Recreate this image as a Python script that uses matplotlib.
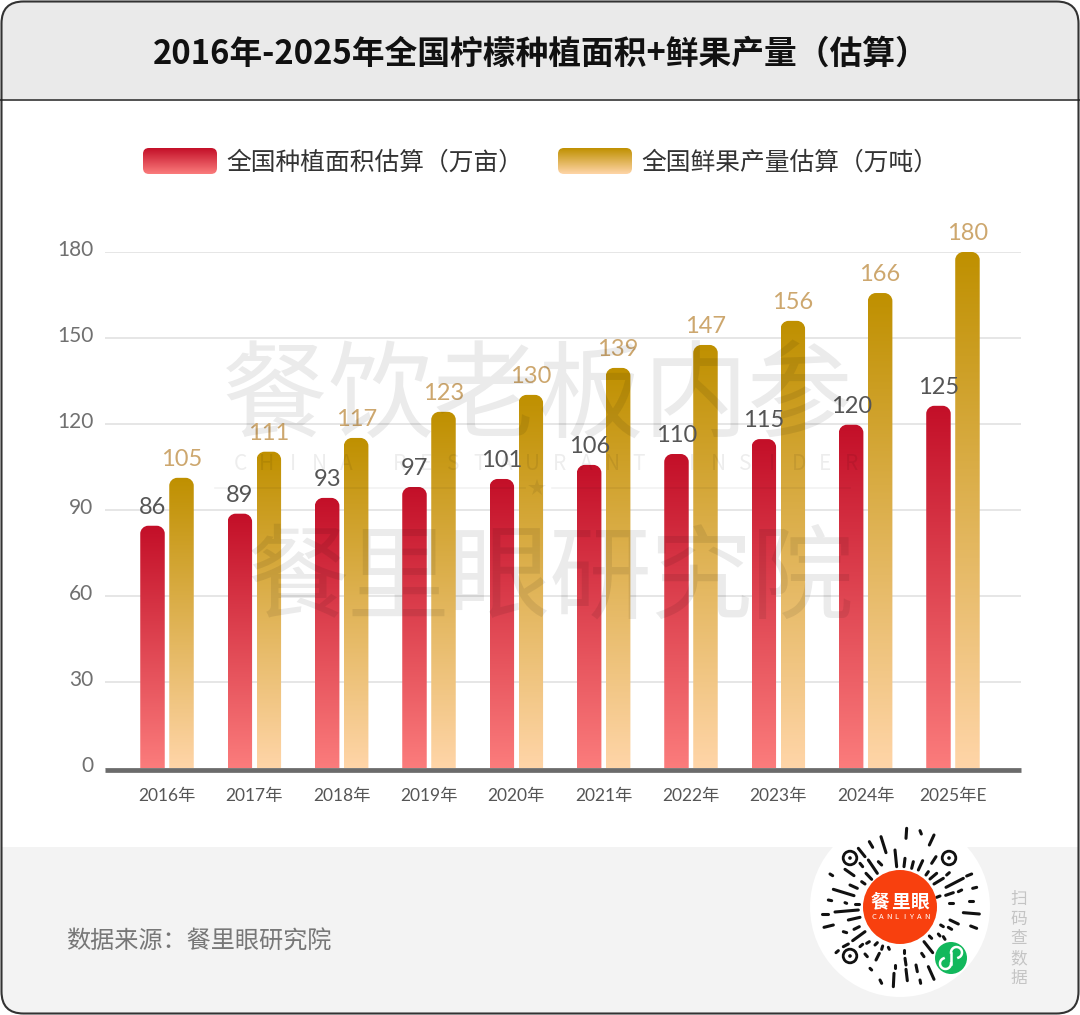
"""
Lemon planting area and fresh fruit output, 2016-2025, as a gradient bar chart.
"""
import numpy as np
import matplotlib
matplotlib.use("Agg")
import matplotlib.pyplot as plt
from matplotlib.colors import LinearSegmentedColormap
from matplotlib.patches import Circle, FancyBboxPatch, PathPatch, Rectangle
from matplotlib.path import Path
from matplotlib.transforms import ScaledTranslation

plt.rcParams['font.family'] = ['Noto Sans CJK SC', 'DejaVu Sans']

W, H = 1080, 1015

years = ['2016年', '2017年', '2018年', '2019年', '2020年', '2021年', '2022年', '2023年', '2024年', '2025年E']
# The bars in the picture do not sit exactly at their printed numbers, so heights and labels are kept apart
area_heights = [84.6, 88.8, 94.3, 98.1, 100.9, 105.8, 109.6, 114.8, 119.8, 126.4]
area_labels = [86, 89, 93, 97, 101, 106, 110, 115, 120, 125]
fruit_heights = [101.3, 110.4, 115.2, 124.3, 130.2, 139.6, 147.6, 156.0, 165.7, 180.0]
fruit_labels = [105, 111, 117, 123, 130, 139, 147, 156, 166, 180]
y_ticks = [0, 30, 60, 90, 120, 150, 180]

title = '2016年-2025年全国柠檬种植面积+鲜果产量（估算）'
area_name = '全国种植面积估算（万亩）'
fruit_name = '全国鲜果产量估算（万吨）'
source = '数据来源：餐里眼研究院'

red_map = LinearSegmentedColormap.from_list('red', ['#C30F28', '#FB7C7C'])
gold_map = LinearSegmentedColormap.from_list('gold', ['#BF9000', '#FFD5A8'])
ramp = np.linspace(0, 1, 256).reshape(-1, 1)
num_font = ['Lato', 'Noto Sans CJK SC']

# QR strokes: x1, y1, x2, y2 in pixels of a 3x crop at (780, 810)
qr_strokes = [
	(380,55,378,85),(420,62,424,72),(462,75,448,105),(303,80,318,128),(268,95,278,112),(235,115,255,140),
	(345,120,350,170),(342,85,342,85),(375,122,375,122),(408,107,408,107),(405,125,405,125),(442,120,442,120),
	(468,140,455,160),(375,145,372,170),(400,155,395,175),(428,152,415,180),(265,150,292,190),(295,155,305,165),
	(240,160,248,170),(195,178,222,197),(258,190,275,208),(445,185,438,195),(470,190,450,207),(508,188,500,195),
	(575,192,560,198),(550,205,498,232),(490,205,462,222),(150,192,158,197),(180,208,180,208),(210,225,232,235),
	(245,215,255,222),(160,238,222,257),(590,232,578,235),(562,238,562,238),(545,240,535,245),(520,248,497,256),
	(480,258,470,262),(145,270,155,272),(170,277,170,277),(195,278,200,280),(225,282,238,282),(508,278,520,278),
	(535,278,535,278),(568,272,580,272),(480,280,480,280),(165,306,235,300),(125,312,145,312),(550,308,598,312),
	(485,305,485,305),(205,330,240,322),(510,330,535,342),(132,352,160,345),(185,340,185,340),(480,322,480,322),
	(552,342,552,342),(572,348,590,355),(238,350,222,358),(200,368,190,365),(482,345,490,350),(505,352,515,358),
	(470,360,470,360),(218,392,255,365),(162,385,162,385),(525,368,525,368),(475,372,480,378),(558,384,558,384),
	(490,380,495,388),(190,410,205,402),(240,410,248,403),(268,395,260,400),(455,385,448,378),(168,428,175,422),
	(285,405,292,398),(305,418,308,408),(328,418,325,412),(352,405,352,405),(372,420,372,430),(395,420,395,420),
	(412,405,412,405),(432,395,458,428),(425,430,432,440),(262,440,255,432),(298,430,288,450),(322,430,322,430),
	(375,445,378,465),(345,465,345,475),(315,460,315,460),(275,480,270,475),(342,490,340,530),(378,478,382,512),
	(408,465,412,485),(445,470,462,508),(420,510,422,520),(300,510,305,520),
]


def top_rounded(x0, x1, y0, y1, rx, ry):
	# Bar outline with only the two top corners rounded
	k = 0.55
	verts = [(x0, y0), (x0, y1 - ry), (x0, y1 - ry + k * ry), (x0 + rx - k * rx, y1), (x0 + rx, y1),
		(x1 - rx, y1), (x1 - rx + k * rx, y1), (x1, y1 - ry + k * ry), (x1, y1 - ry), (x1, y0), (x0, y0)]
	codes = [Path.MOVETO, Path.LINETO, Path.CURVE4, Path.CURVE4, Path.CURVE4,
		Path.LINETO, Path.CURVE4, Path.CURVE4, Path.CURVE4, Path.LINETO, Path.CLOSEPOLY]
	return Path(verts, codes)


fig = plt.figure(figsize=(W / 100, H / 100), dpi=100)

# Page furniture is laid out in pixels on a full-figure axes
bg = fig.add_axes([0, 0, 1, 1], zorder=0)
bg.set_xlim(0, W)
bg.set_ylim(H, 0)
bg.axis('off')
frame = FancyBboxPatch((1.5, 1.5), W - 3, H - 3, boxstyle='round,pad=0,rounding_size=22', fc='white', ec='none')
bg.add_patch(frame)
head = Rectangle((0, 0), W, 99, fc='#EAEAEA', ec='none', clip_path=frame)
bg.add_patch(head)
foot = Rectangle((0, 847), W, H - 847, fc='#F3F3F3', ec='none', clip_path=frame)
bg.add_patch(foot)
bg.plot([0, W], [99.5, 99.5], color='#222222', lw=1.1)
bg.add_patch(FancyBboxPatch((1.5, 1.5), W - 3, H - 3, boxstyle='round,pad=0,rounding_size=22', fc='none', ec='#333333', lw=1.5))
bg.text(541, 54, title, ha='center', va='center', fontsize=23.6, fontweight='bold', color='#111111')

# Legend
for x0, cmap, name in [(143, red_map, area_name), (558, gold_map, fruit_name)]:
	im = bg.imshow(ramp, cmap=cmap, extent=(x0, x0 + 74, 174, 148), aspect='auto', zorder=2)
	swatch = FancyBboxPatch((x0, 148), 74, 26, boxstyle='round,pad=0,rounding_size=6', fc='none', ec='none', transform=bg.transData)
	bg.add_patch(swatch)
	im.set_clip_path(swatch)
	bg.text(x0 + 83, 163, name, ha='left', va='center', fontsize=17.8, color='#333333')
bg.set_xlim(0, W)
bg.set_ylim(H, 0)

# Footer
bg.text(66, 942, source, ha='left', va='center', fontsize=17.4, color='#777777')
bg.add_patch(Circle((900, 907), 90, fc='white', ec='none', zorder=3))
for x1, y1, x2, y2 in qr_strokes:
	bg.plot([780 + x1 / 3, 780 + x2 / 3], [810 + y1 / 3, 810 + y2 / 3], color='#111111', lw=2.2, solid_capstyle='round', zorder=4)
for cx, cy in [(850, 858), (949, 858), (850, 956)]:
	bg.add_patch(Circle((cx, cy), 6.8, fc='white', ec='#111111', lw=2.0, zorder=4))
	bg.add_patch(Circle((cx, cy), 1.8, fc='#111111', ec='none', zorder=4))
bg.add_patch(Circle((900, 907), 37, fc='#F8400E', ec='none', zorder=5))
for i, ch in enumerate('餐里眼'):
	bg.text(880 + i * 20, 902, ch, ha='center', va='center', fontsize=13.5, fontweight='bold', color='white', zorder=6)
for i, ch in enumerate('CANLIYAN'):
	bg.text(873.5 + i * 7.6, 917, ch, ha='center', va='center', fontsize=5.5, color='white', zorder=6)

# Mini program badge: two open rings joined by a short stem
bg.add_patch(Circle((951, 958), 16, fc='#12B85C', ec='none', zorder=5))
low = np.deg2rad(np.linspace(0, 250, 40))
high = np.deg2rad(np.linspace(180, 430, 40))
bg.plot(945.5 + 5.5 * np.cos(low), 963.5 + 5.5 * np.sin(low), color='white', lw=1.8, zorder=6)
bg.plot(956.5 + 5.5 * np.cos(high), 952.5 + 5.5 * np.sin(high), color='white', lw=1.8, zorder=6)
bg.plot([951, 951], [963.5, 952.5], color='white', lw=1.8, zorder=6)
for i, ch in enumerate('扫码查数据'):
	bg.text(1019, 899 + i * 20, ch, ha='center', va='center', fontsize=12, color='#C4C4C4')

# Chart axes: pixel box chosen so that group i centres at 167 + 87.33 i, 0 at y=768.5 and 180 at y=252
xlim = ((105 - 167) / 87.33, (1021 - 167) / 87.33)
ax = fig.add_axes([105 / W, 1 - 768.5 / H, 916 / W, 516.5 / H], zorder=1)
ax.patch.set_alpha(0)
ax.set_axisbelow(True)
for side in ax.spines:
	ax.spines[side].set_visible(False)

x = np.arange(len(years))
offset = 14.5 / 87.33
width = 24.5 / 87.33
area_bars = ax.bar(x - offset, area_heights, width, color='none')
fruit_bars = ax.bar(x + offset, fruit_heights, width, color='none')

rx = 8 / 87.33
ry = 8 * 180 / 516.5
for bars, cmap in [(area_bars, red_map), (fruit_bars, gold_map)]:
	for rect in bars:
		x0, x1 = rect.get_x(), rect.get_x() + rect.get_width()
		top = rect.get_height()
		im = ax.imshow(ramp, cmap=cmap, extent=(x0, x1, 0, top), aspect='auto', zorder=2)
		outline = PathPatch(top_rounded(x0, x1, 0, top, rx, ry), fc='none', ec='none', transform=ax.transData)
		ax.add_patch(outline)
		im.set_clip_path(outline)

for xi, top, label in zip(x - offset, area_heights, area_labels):
	ax.annotate(str(label), (xi, top), xytext=(0, 5.5), textcoords='offset points', ha='center', va='bottom',
		fontsize=17, family=num_font, color='#555555', zorder=4)
for xi, top, label in zip(x + offset, fruit_heights, fruit_labels):
	ax.annotate(str(label), (xi, top), xytext=(0, 5.5), textcoords='offset points', ha='center', va='bottom',
		fontsize=17, family=num_font, color='#CDA76E', zorder=4)

ax.set_xlim(*xlim)
ax.set_ylim(0, 180)
ax.set_yticks(y_ticks)
ax.yaxis.grid(True, color='#E2E2E2', lw=1.2)
ax.set_yticklabels([str(v) for v in y_ticks], fontsize=15, color='#707070', family=num_font)
ax.tick_params(axis='y', length=0, pad=8.5)
# Value labels of the y axis sit a little above their gridlines
for lab in ax.get_yticklabels():
	lab.set_transform(lab.get_transform() + ScaledTranslation(0, 4 / 100, fig.dpi_scale_trans))
ax.set_xticks(x)
ax.set_xticklabels(years, fontsize=12.5, color='#555555', family=num_font)
ax.tick_params(axis='x', length=0, pad=14)
ax.axhline(-0.5, color='#6B6B6B', lw=3.4, zorder=3, clip_on=False, solid_capstyle='butt')

# Watermark sits over the bars
wm = fig.add_axes([0, 0, 1, 1], zorder=2)
wm.set_xlim(0, W)
wm.set_ylim(H, 0)
wm.axis('off')
for i, ch in enumerate('餐饮老板内参'):
	wm.text(275 + i * 105, 399, ch, ha='center', va='center', fontsize=76, fontweight='medium', color='black', alpha=0.08)
for i, ch in enumerate('餐里眼研究院'):
	wm.text(297 + i * 101, 581, ch, ha='center', va='center', fontsize=74, fontweight='medium', color='black', alpha=0.08)
for i, ch in enumerate('CHINA RESTAURANT INSIDER'):
	wm.text(240 + i * 26.6, 464, ch, ha='center', va='center', fontsize=15, color='black', alpha=0.07)
wm.plot([215, 525], [488, 488], color='black', alpha=0.05, lw=1.2)
wm.plot([552, 850], [488, 488], color='black', alpha=0.05, lw=1.2)
wm.plot([537], [488], marker='*', ms=13, color='black', alpha=0.07, mew=0)

fig.savefig('out.png', dpi=100)
